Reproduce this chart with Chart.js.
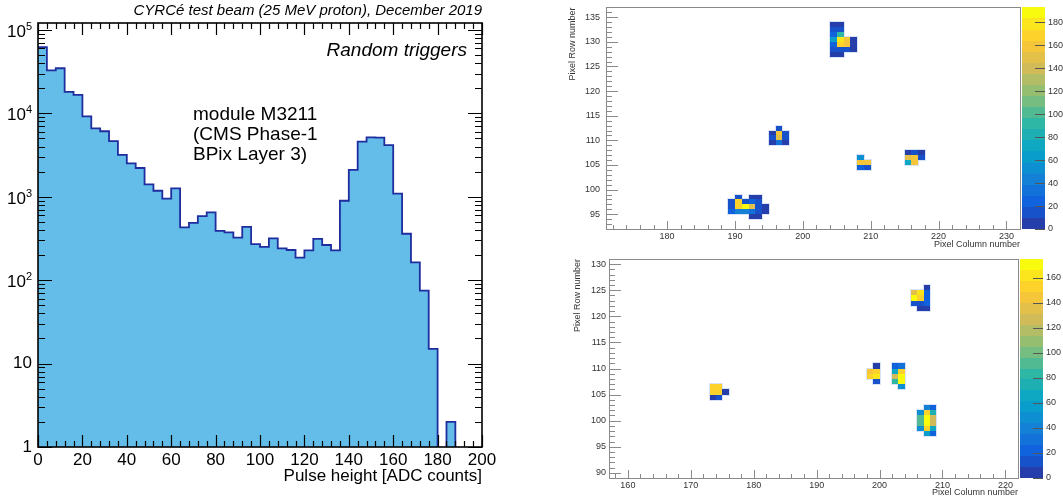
<!DOCTYPE html>
<html>
<head>
<meta charset="utf-8">
<script src="https://cdn.jsdelivr.net/npm/chart.js@4.4.0/dist/chart.umd.min.js"></script>
<style>
  html, body { margin: 0; padding: 0; background: #fff; }
  body { width: 1063px; height: 499px; position: relative; overflow: hidden; }
  .pane { position: absolute; }
  #hist { left: 0; top: 0; width: 500px; height: 499px; }
  #mapTop { left: 560px; top: 0; width: 503px; height: 250px; }
  #mapBot { left: 560px; top: 250px; width: 503px; height: 249px; }
</style>
</head>
<body>
<div class="pane" id="hist"><canvas id="histChart"></canvas></div>
<div class="pane" id="mapTop"><canvas id="mapTopChart"></canvas></div>
<div class="pane" id="mapBot"><canvas id="mapBotChart"></canvas></div>
<script>
// ---- pulse height spectrum (4 ADC bins) ----
const pulseBins = [0, 4, 8, 12, 16, 20, 24, 28, 32, 36, 40, 44, 48, 52, 56, 60, 64, 68, 72, 76,
  80, 84, 88, 92, 96, 100, 104, 108, 112, 116, 120, 124, 128, 132, 136, 140, 144, 148, 152, 156,
  160, 164, 168, 172, 176, 180, 184, 188, 192, 196, 200];
const pulseCounts = [62000, 32700, 34700, 18100, 16600, 9200, 6600, 6100, 4650, 3180,
  2510, 2210, 1410, 1180, 950, 1260, 430, 485, 585, 650,
  390, 375, 323, 435, 270, 250, 317, 240, 230, 186,
  228, 312, 264, 228, 895, 2100, 4570, 5150, 5100, 4150,
  1090, 360, 163, 75, 15, 0, 2, 0, 0, 0];
const histXTicks = [0, 20, 40, 60, 80, 100, 120, 140, 160, 180, 200];
const histYTicks = [1, 10, 100, 1000, 10000, 100000];

// ---- hit maps: column, row, charge ----
const topCols = [204, 205, 204, 205, 204, 205, 204, 205, 206, 207, 204, 205, 206, 207, 204, 205, 206, 207, 204, 205,
  196, 195, 196, 197, 195, 196, 197, 195, 196, 197,
  208, 208, 209, 208, 209,
  215, 216, 217, 215, 216, 217, 215, 216,
  190, 192, 193, 189, 190, 191, 192, 193, 189, 190, 191, 192, 193, 194, 189, 190, 191, 192, 193, 194, 192, 193];
const topRows = [133, 133, 132, 132, 131, 131, 130, 130, 130, 130, 129, 129, 129, 129, 128, 128, 128, 128, 127, 127,
  112, 111, 111, 111, 110, 110, 110, 109, 109, 109,
  106, 105, 105, 104, 104,
  107, 107, 107, 106, 106, 106, 105, 105,
  98, 98, 98, 97, 97, 97, 97, 97, 96, 96, 96, 96, 96, 96, 95, 95, 95, 95, 95, 95, 94, 94];
const topVals = [5, 5, 14, 14, 22, 92, 62, 180, 162, 5, 20, 170, 160, 8, 16, 16, 18, 6, 5, 5,
  16, 5, 160, 12, 12, 150, 14, 6, 32, 6,
  55, 162, 162, 28, 15,
  5, 16, 5, 145, 160, 15, 68, 160,
  16, 6, 6, 16, 165, 16, 28, 16, 16, 170, 192, 145, 16, 6, 24, 42, 42, 38, 18, 6, 6, 6];
const topXTicks = [180, 190, 200, 210, 220, 230];
const topYTicks = [95, 100, 105, 110, 115, 120, 125, 130, 135];
const topZTicks = [0, 20, 40, 60, 80, 100, 120, 140, 160, 180];

const botCols = [173, 174, 173, 174, 175, 173, 174,
  199, 198, 199, 198, 199, 199,
  202, 203, 202, 203, 202, 203, 202, 203, 203,
  207, 205, 206, 207, 205, 206, 207, 205, 206, 207, 206, 207,
  207, 208, 206, 207, 208, 206, 207, 208, 206, 207, 208, 206, 207, 208, 207, 208];
const botRows = [106, 106, 105, 105, 105, 104, 104,
  110, 109, 109, 108, 108, 107,
  110, 110, 109, 109, 108, 108, 107, 107, 106,
  125, 124, 124, 124, 123, 123, 123, 122, 122, 122, 121, 121,
  102, 102, 101, 101, 101, 100, 100, 100, 99, 99, 99, 98, 98, 98, 97, 97];
const botVals = [150, 150, 150, 150, 5, 5, 14,
  5, 145, 155, 150, 165, 14,
  22, 30, 62, 152, 128, 170, 80, 168, 45,
  5, 135, 165, 20, 168, 150, 20, 14, 14, 18, 6, 6,
  42, 22, 45, 152, 75, 95, 172, 130, 92, 175, 130, 50, 155, 68, 55, 22];
const botXTicks = [160, 170, 180, 190, 200, 210, 220];
const botYTicks = [90, 95, 100, 105, 110, 115, 120, 125, 130];
const botZTicks = [0, 20, 40, 60, 80, 100, 120, 140, 160];

Chart.defaults.font.family = "'Liberation Sans', Arial, Helvetica, sans-serif";
Chart.defaults.color = '#000';
const FONT = "'Liberation Sans', Arial, Helvetica, sans-serif";

// empty bins sit below the log floor
const histPoints = pulseBins.map((b, i) => ({ x: b, y: pulseCounts[i] > 0 ? pulseCounts[i] : 0.5 }));
histPoints[histPoints.length - 1].y = 0.5;

const histDecor = {
  id: 'histDecor',
  afterDatasetsDraw(chart) {
    const { ctx, chartArea: a, scales: { x, y } } = chart;
    ctx.save();
    ctx.strokeStyle = '#000';
    ctx.lineWidth = 1.2;
    ctx.beginPath();
    for (let v = 0; v <= 200; v += 4) {
      const px = Math.round(x.getPixelForValue(v)) + 0.5;
      const len = v % 20 === 0 ? 12 : 6;
      ctx.moveTo(px, a.bottom); ctx.lineTo(px, a.bottom - len);
      ctx.moveTo(px, a.top); ctx.lineTo(px, a.top + len);
    }
    for (let d = 1; d <= 1e5; d *= 10) {
      for (let m = 1; m <= 9; m++) {
        const v = d * m;
        if (v > y.max) break;
        const py = Math.round(y.getPixelForValue(v)) + 0.5;
        const len = m === 1 ? 14 : 7;
        ctx.moveTo(a.left, py); ctx.lineTo(a.left + len, py);
        ctx.moveTo(a.right, py); ctx.lineTo(a.right - len, py);
      }
    }
    ctx.stroke();
    ctx.lineWidth = 1.6;
    ctx.strokeRect(a.left, a.top, a.right - a.left, a.bottom - a.top);

    // y tick labels, ROOT style 10^n
    ctx.fillStyle = '#000';
    histYTicks.forEach(v => {
      const py = y.getPixelForValue(v);
      const n = Math.round(Math.log10(v));
      if (n < 2) {
        ctx.font = '17px ' + FONT;
        ctx.textAlign = 'right';
        ctx.textBaseline = 'middle';
        ctx.fillText(String(v), a.left - 6, py);
      } else {
        ctx.textBaseline = 'alphabetic';
        ctx.font = '17px ' + FONT;
        ctx.textAlign = 'right';
        ctx.fillText('10', a.left - 12, py + 7);
        ctx.font = '11px ' + FONT;
        ctx.textAlign = 'left';
        ctx.fillText(String(n), a.left - 12, py);
      }
    });

    ctx.textBaseline = 'alphabetic';
    ctx.font = 'italic 19px ' + FONT;
    ctx.textAlign = 'right';
    ctx.fillText('Random triggers', a.right - 15, 55.5);
    ctx.font = '19px ' + FONT;
    ctx.textAlign = 'left';
    ['module M3211', '(CMS Phase-1', 'BPix Layer 3)'].forEach((t, i) => {
      ctx.fillText(t, 193, 120 + i * 20);
    });
    ctx.restore();
  }
};

new Chart(document.getElementById('histChart'), {
  type: 'line',
  data: {
    datasets: [{
      data: histPoints,
      stepped: true,
      fill: 'start',
      backgroundColor: '#63bde8',
      borderColor: '#1f2d9f',
      borderWidth: 1.8,
      pointRadius: 0,
      tension: 0
    }]
  },
  options: {
    responsive: true,
    maintainAspectRatio: false,
    animation: false,
    layout: { padding: { left: 0, right: 18, top: 0, bottom: 0 } },
    plugins: {
      legend: { display: false },
      tooltip: { enabled: false },
      title: {
        display: true,
        text: 'CYRCé test beam (25 MeV proton), December 2019',
        align: 'end',
        color: '#000',
        font: { size: 15, style: 'italic', weight: 'normal' },
        padding: { top: 2, bottom: 3 }
      }
    },
    scales: {
      x: {
        type: 'linear', min: 0, max: 200,
        grid: { display: false, drawTicks: false },
        border: { display: false },
        afterBuildTicks: s => { s.ticks = histXTicks.map(v => ({ value: v })); },
        afterFit: s => { s.height = 52; },
        ticks: { font: { size: 17 }, padding: 3, maxRotation: 0, autoSkip: false, color: '#000' },
        title: {
          display: true, text: 'Pulse height [ADC counts]', align: 'end', color: '#000',
          font: { size: 17 }, padding: { top: 0, bottom: 12 }
        }
      },
      y: {
        type: 'logarithmic', min: 1, max: 1.21e5,
        grid: { display: false, drawTicks: false },
        border: { display: false },
        ticks: { display: false },
        afterFit: s => { s.width = 38; }
      }
    }
  },
  plugins: [histDecor]
});

// ---- kBird palette, 20 contour levels ----
const birdStops = [[53, 42, 135], [15, 92, 221], [20, 129, 214], [6, 164, 202], [46, 183, 164],
  [135, 191, 119], [209, 187, 89], [254, 200, 50], [249, 251, 14]];
function bird(f) {
  const t = Math.max(0, Math.min(1, f)) * 8;
  const i = Math.min(7, Math.floor(t)), r = t - i;
  const a = birdStops[i], b = birdStops[i + 1];
  return 'rgb(' + a.map((c, k) => Math.round(c + (b[k] - c) * r)).join(',') + ')';
}
function levelColor(v, zmax) {
  const i = Math.max(0, Math.min(19, Math.floor(v / zmax * 20)));
  return bird((i + 0.99) / 20);
}

const mapDecor = {
  id: 'mapDecor',
  beforeDatasetsDraw(chart) {
    const { ctx, chartArea: a, scales: { x, y } } = chart;
    const zmax = chart.scales.zbar.max;
    const pts = chart.data.datasets[0].data;
    ctx.save();
    ctx.beginPath();
    ctx.rect(a.left, a.top, a.right - a.left, a.bottom - a.top);
    ctx.clip();
    const box = p => {
      const x0 = Math.round(x.getPixelForValue(p.x)), x1 = Math.round(x.getPixelForValue(p.x + 1));
      const y0 = Math.round(y.getPixelForValue(p.y + 1)), y1 = Math.round(y.getPixelForValue(p.y));
      return [x0, y0, x1 - x0, y1 - y0];
    };
    ctx.beginPath();
    pts.forEach(p => { const [bx, by, bw, bh] = box(p); ctx.rect(bx - 1, by - 1, bw + 2, bh + 2); });
    ctx.fillStyle = 'rgba(160,185,235,0.4)';
    ctx.fill();
    pts.forEach(p => {
      const [bx, by, bw, bh] = box(p);
      ctx.fillStyle = levelColor(p.v, zmax);
      ctx.fillRect(bx, by, bw, bh);
    });
    ctx.restore();
  },
  afterDraw(chart) {
    const { ctx, chartArea: a, scales: { x, y, zbar } } = chart;
    ctx.save();
    ctx.strokeStyle = '#8a8a8a';
    ctx.lineWidth = 1;
    ctx.beginPath();
    for (let v = Math.ceil(x.min / 2) * 2; v <= x.max; v += 2) {
      const px = Math.round(x.getPixelForValue(v)) + 0.5;
      const len = v % 10 === 0 ? 8 : 4;
      ctx.moveTo(px, a.bottom); ctx.lineTo(px, a.bottom - len);
    }
    for (let v = Math.ceil(y.min); v <= y.max; v++) {
      const py = Math.round(y.getPixelForValue(v)) + 0.5;
      const len = v % 5 === 0 ? 12 : 6;
      ctx.moveTo(a.left, py); ctx.lineTo(a.left + len, py);
    }
    ctx.stroke();
    ctx.strokeRect(Math.round(a.left) + 0.5, Math.round(a.top) + 0.5,
      Math.round(a.right - a.left), Math.round(a.bottom - a.top));

    // colour bar
    const cx0 = Math.round(zbar.left) + 2, cx1 = Math.round(zbar.left) + 25;
    for (let i = 0; i < 20; i++) {
      const yA = Math.round(zbar.getPixelForValue(i * zbar.max / 20));
      const yB = Math.round(zbar.getPixelForValue((i + 1) * zbar.max / 20));
      ctx.fillStyle = bird((i + 0.99) / 20);
      ctx.fillRect(cx0, yB, cx1 - cx0, yA - yB);
    }
    ctx.strokeStyle = '#555';
    ctx.beginPath();
    zbar.ticks.forEach(t => {
      const py = Math.round(zbar.getPixelForValue(t.value)) + 0.5;
      ctx.moveTo(cx1, py); ctx.lineTo(cx1 - 10, py);
    });
    ctx.stroke();
    ctx.restore();
  }
};

function makeMap(id, m) {
  const small = { size: 9 };
  return new Chart(document.getElementById(id), {
    type: 'scatter',
    data: {
      datasets: [{
        data: m.cols.map((c, i) => ({ x: c, y: m.rows[i], v: m.vals[i] })),
        pointRadius: 0,
        pointHoverRadius: 0
      }]
    },
    options: {
      responsive: true,
      maintainAspectRatio: false,
      animation: false,
      layout: { padding: { left: 0, right: 0, top: m.padTop, bottom: 0 } },
      plugins: { legend: { display: false }, tooltip: { enabled: false } },
      scales: {
        x: {
          type: 'linear', min: m.xRange[0], max: m.xRange[1],
          grid: { display: false, drawTicks: false }, border: { display: false },
          afterBuildTicks: s => { s.ticks = m.xTicks.map(v => ({ value: v })); },
          afterFit: s => { s.height = m.xAxisH; },
          ticks: { font: small, padding: 2, color: '#333', maxRotation: 0, autoSkip: false },
          title: { display: true, text: 'Pixel Column number', align: 'end', color: '#333', font: small, padding: { top: 0, bottom: m.xTitlePad } }
        },
        y: {
          type: 'linear', min: m.yRange[0], max: m.yRange[1],
          grid: { display: false, drawTicks: true, tickLength: m.yTickPad }, border: { display: false },
          afterBuildTicks: s => { s.ticks = m.yTicks.map(v => ({ value: v })); },
          afterFit: s => { s.width = m.yAxisW; },
          ticks: { font: small, padding: 0, color: '#333', autoSkip: false },
          title: { display: true, text: 'Pixel Row number', align: 'end', color: '#333', font: small, padding: { top: m.yTitlePad, bottom: 0 } }
        },
        zbar: {
          type: 'linear', axis: 'y', position: 'right', min: 0, max: m.zMax,
          grid: { display: false, drawTicks: true, tickLength: 26 }, border: { display: false },
          afterBuildTicks: s => { s.ticks = m.zTicks.map(v => ({ value: v })); },
          afterFit: s => { s.width = m.zAxisW; },
          ticks: { font: small, padding: 2, color: '#333', autoSkip: false }
        }
      }
    },
    plugins: [mapDecor]
  });
}

makeMap('mapTopChart', {
  cols: topCols, rows: topRows, vals: topVals,
  xRange: [171, 232], yRange: [92, 137], zMax: 193,
  xTicks: topXTicks, yTicks: topYTicks, zTicks: topZTicks,
  padTop: 7, xAxisH: 21, yAxisW: 46, zAxisW: 43,
  yTickPad: 6, yTitlePad: 7, xTitlePad: 0
});

makeMap('mapBotChart', {
  cols: botCols, rows: botRows, vals: botVals,
  xRange: [157, 222], yRange: [89, 131], zMax: 175,
  xTicks: botXTicks, yTicks: botYTicks, zTicks: botZTicks,
  padTop: 9, xAxisH: 21, yAxisW: 49, zAxisW: 45,
  yTickPad: 3, yTitlePad: 12, xTitlePad: 1
});
</script>
</body>
</html>
